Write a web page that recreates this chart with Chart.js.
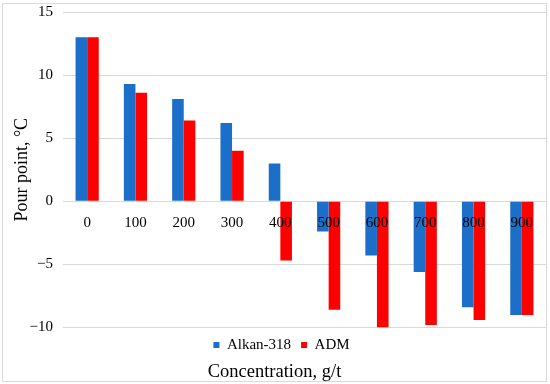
<!DOCTYPE html>
<html lang="en">
<head>
    <meta charset="UTF-8">
    <title>Pour point</title>
    <script src="https://cdn.jsdelivr.net/npm/chart.js@4.4.0/dist/chart.umd.min.js"></script>
    <style>
        body { margin: 0; background: #fff; }
        .frame { position: absolute; left: 2px; top: 3px; width: 543px; height: 377px; border: 1px solid #d9d9d9; }
    </style>
</head>
<body>
    <div class="frame"><canvas id="myChart" width="543" height="377"></canvas></div>

    <script>
        const concentrations = ['0', '100', '200', '300', '400', '500', '600', '700', '800', '900'];
        const alkan318 = [13, 9.3, 8.1, 6.2, 3.0, -2.4, -4.3, -5.6, -8.4, -9.0];
        const adm = [13, 8.6, 6.4, 4.0, -4.7, -8.6, -10.0, -9.8, -9.4, -9.0];
        const yTicks = [-10, -5, 0, 5, 10, 15];

        const serif = 'Liberation Serif';

        // legend sits a little right of centre in the original
        const legendShift = {
            id: 'legendShift',
            afterLayout(chart) {
                chart.legend.left += 7;
                chart.legend.right += 7;
            }
        };

        var ctx = document.getElementById('myChart').getContext('2d');
        var myChart = new Chart(ctx, {
            type: 'bar',
            data: {
                labels: concentrations,
                datasets: [{
                    label: 'Alkan-318',
                    data: alkan318,
                    backgroundColor: '#1b6fc8'
                }, {
                    label: 'ADM',
                    data: adm,
                    backgroundColor: '#ff0000'
                }]
            },
            options: {
                responsive: false,
                animation: false,
                layout: { padding: { top: 8, right: 0, bottom: 0, left: 0 } },
                datasets: {
                    bar: { categoryPercentage: 0.48, barPercentage: 1 }
                },
                scales: {
                    x: {
                        position: { y: 0 },
                        grid: { display: false },
                        border: { display: false },
                        ticks: { z: 1, color: '#000', padding: 5, font: { family: serif, size: 15 } }
                    },
                    y: {
                        min: yTicks[0],
                        max: yTicks[yTicks.length - 1],
                        afterBuildTicks: (scale) => { scale.ticks = yTicks.map(v => ({ value: v })); },
                        afterFit: (scale) => {
                            scale.width = 60;
                            scale.paddingTop = 0;
                            scale.paddingBottom = 0;
                        },
                        grid: { color: '#d9d9d9', drawTicks: false },
                        border: { display: false },
                        ticks: {
                            color: '#000',
                            padding: 10,
                            font: { family: serif, size: 15 },
                            callback: (v) => v < 0 ? '\u2212' + Math.abs(v) : v
                        },
                        title: {
                            display: true,
                            text: 'Pour point, °C',
                            color: '#000',
                            font: { family: serif, size: 18 },
                            padding: { top: 8, bottom: 0 }
                        }
                    }
                },
                plugins: {
                    legend: {
                        position: 'bottom',
                        labels: {
                            color: '#000',
                            boxWidth: 6,
                            boxHeight: 6,
                            padding: 10,
                            font: { family: serif, size: 15 }
                        }
                    },
                    title: {
                        display: true,
                        position: 'bottom',
                        text: 'Concentration, g/t',
                        color: '#000',
                        font: { family: serif, size: 18.5, weight: 'normal', lineHeight: 1 },
                        padding: { top: 0, bottom: 0 }
                    },
                    tooltip: { enabled: false }
                }
            },
            plugins: [legendShift]
        });
    </script>
</body>
</html>
